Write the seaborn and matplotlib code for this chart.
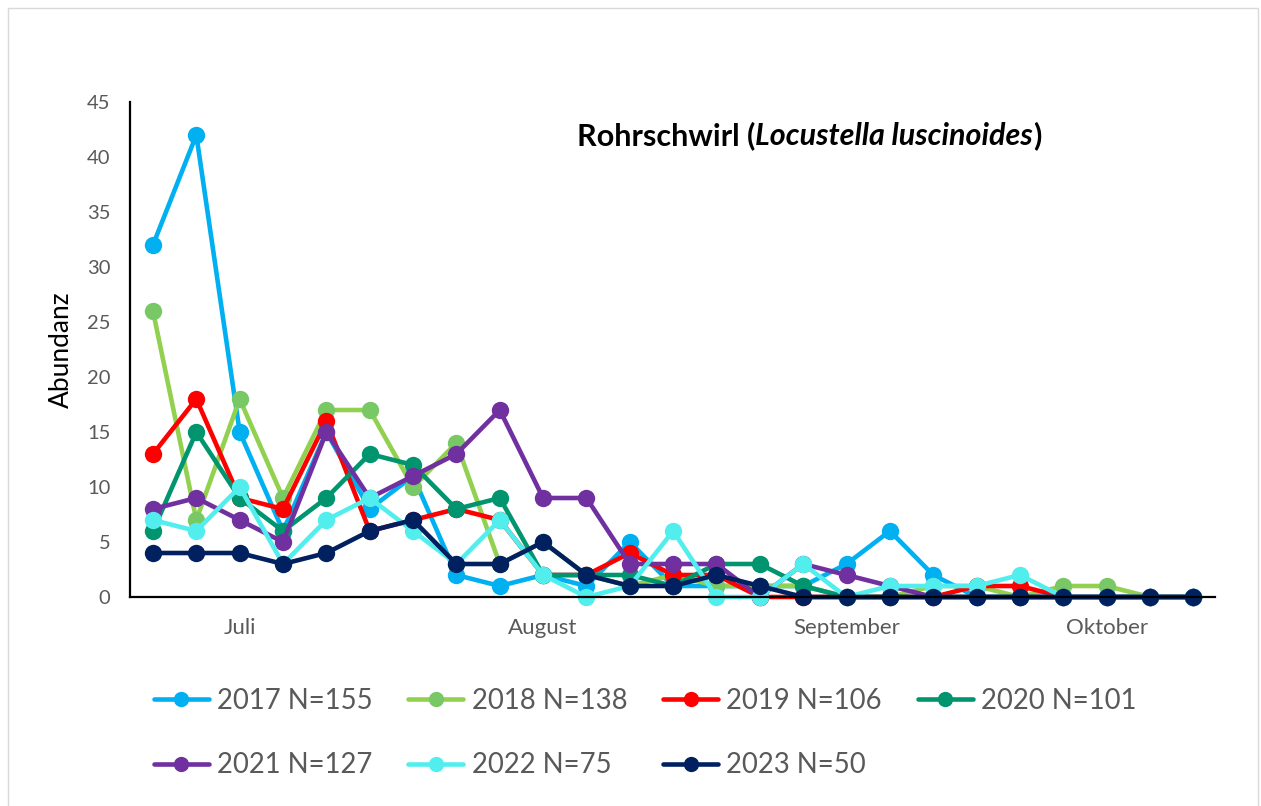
import matplotlib
matplotlib.use("Agg")
import matplotlib.pyplot as plt
import seaborn as sns
import pandas as pd
from matplotlib.patches import Rectangle

# ---- data ----
pentade = list(range(25))
month_ticks = [2, 9, 16, 22]
month_labels = ["Juli", "August", "September", "Oktober"]

y2017 = [32, 42, 15, 6, 15, 8, 11, 2, 1, 2, 1, 5, 1, 1, 1, 1, 3, 6, 2, 0, 0, 0, 0, 0, 0]
y2018 = [26, 7, 18, 9, 17, 17, 10, 14, 3, 5, 2, 1, 2, 1, 1, 1, 0, 0, 1, 1, 0, 1, 1, 0, 0]
y2019 = [13, 18, 9, 8, 16, 6, 7, 8, 7, 2, 2, 4, 2, 2, 0, 0, 0, 0, 0, 1, 1, 0, 0, 0, 0]
y2020 = [6, 15, 9, 6, 9, 13, 12, 8, 9, 2, 2, 2, 1, 3, 3, 1, 0, 0, 0, 0, 0, 0, 0, 0, 0]
y2021 = [8, 9, 7, 5, 15, 9, 11, 13, 17, 9, 9, 3, 3, 3, 0, 3, 2, 1, 0, 0, 0, 0, 0, 0, 0]
y2022 = [7, 6, 10, 3, 7, 9, 6, 3, 7, 2, 0, 1, 6, 0, 0, 3, 0, 1, 1, 1, 2, 0, 0, 0, 0]
y2023 = [4, 4, 4, 3, 4, 6, 7, 3, 3, 5, 2, 1, 1, 2, 1, 0, 0, 0, 0, 0, 0, 0, 0, 0, 0]

series_names = ["2017 N=155", "2018 N=138", "2019 N=106", "2020 N=101",
                "2021 N=127", "2022 N=75", "2023 N=50"]
series_values = [y2017, y2018, y2019, y2020, y2021, y2022, y2023]
line_colors = ["#00B0F0", "#92D050", "#FF0000", "#00956F", "#7030A0", "#52EEEE", "#002060"]
marker_colors = ["#00B0F0", "#78C865", "#FF0000", "#00956F", "#7030A0", "#52EEEE", "#002060"]

rows = []
for name, vals in zip(series_names, series_values):
    for x, v in zip(pentade, vals):
        rows.append({"x": x, "Abundanz": v, "Jahr": name})
df = pd.DataFrame(rows)

# ---- style ----
sns.set_theme(style="white")
plt.rcParams["font.family"] = ["Lato", "DejaVu Sans"]

W, H = 1261, 806
fig = plt.figure(figsize=(W / 100, H / 100), dpi=100)
ax = fig.add_axes([130 / W, 1 - 597 / H, (1215 - 130) / W, (597 - 102) / H])

sns.lineplot(data=df, x="x", y="Abundanz", hue="Jahr", hue_order=series_names,
             palette=dict(zip(series_names, line_colors)), marker="o",
             markersize=12.5, markeredgewidth=0, linewidth=3.3, ax=ax,
             legend=False, clip_on=False)

for ln, mc in zip(ax.lines, marker_colors):
    ln.set_markerfacecolor(mc)
    ln.set_markeredgecolor(mc)
    ln.set_clip_on(False)

ax.set_xlim(-0.53, 24.5)
ax.set_ylim(0, 45)
ax.set_yticks(range(0, 46, 5))
ax.set_xticks(month_ticks)
ax.set_xticklabels(month_labels)
ax.tick_params(axis="both", length=0, labelcolor="#595959")
ax.tick_params(axis="x", pad=15, labelsize=16)
ax.tick_params(axis="y", pad=14, labelsize=14.5)
ax.set_xlabel("")
ax.set_ylabel("Abundanz", fontsize=19, color="black")
ax.yaxis.set_label_coords(-0.063, 0.5)
ax.yaxis.label.set_va("center")

for side in ["top", "right"]:
    ax.spines[side].set_visible(False)
for side in ["left", "bottom"]:
    ax.spines[side].set_color("black")
    ax.spines[side].set_linewidth(1.6)
ax.grid(False)

# ---- title (mixed bold / bold italic) ----
t1 = fig.text(577 / W, 1 - 145 / H, "Rohrschwirl (", fontsize=22, fontweight="bold",
              ha="left", va="baseline", color="black")
t2 = ax.annotate("Locustella luscinoides", xy=(1, 0), xycoords=t1, fontsize=22,
                 fontweight="bold", fontstyle="italic", ha="left", va="bottom", color="black")
t3 = ax.annotate(")", xy=(1, 0), xycoords=t2, fontsize=22, fontweight="bold",
                 ha="left", va="bottom", color="black")

# ---- legend (row-wise order like the original) ----
handles = []
for ln, name in zip(ax.lines, series_names):
    h = plt.Line2D([], [], color=ln.get_color(), marker="o", markersize=11,
                   markerfacecolor=ln.get_markerfacecolor(), markeredgewidth=0,
                   linewidth=3.3, label=name)
    handles.append(h)
order = [0, 4, 1, 5, 2, 6, 3]
leg = fig.legend(handles=[handles[i] for i in order], ncol=4, loc="upper left",
                 bbox_to_anchor=(140 / W, 1 - 674 / H), frameon=False,
                 fontsize=19.8, handlelength=2.0, handletextpad=0.3,
                 columnspacing=1.3, labelspacing=1.4, borderpad=0)
for txt in leg.get_texts():
    txt.set_color("#595959")

# chart border
fig.patches.append(Rectangle((8 / W, -0.01), (1258 - 8) / W, 1 - 8 / H + 0.01,
                             transform=fig.transFigure, fill=False,
                             edgecolor="#D9D9D9", linewidth=1.0))

fig.savefig("out.png", dpi=100)
